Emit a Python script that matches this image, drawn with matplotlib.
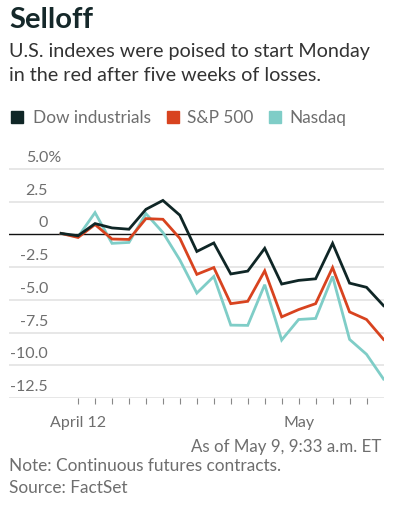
import matplotlib
matplotlib.use("Agg")
import matplotlib.pyplot as plt
import matplotlib.transforms as mtransforms

plt.rcParams['font.family'] = ['Lato', 'DejaVu Sans']

dates = ["Apr 11", "Apr 12", "Apr 13", "Apr 14", "Apr 18", "Apr 19", "Apr 20", "Apr 21",
         "Apr 22", "Apr 25", "Apr 26", "Apr 27", "Apr 28", "Apr 29", "May 2", "May 3",
         "May 4", "May 5", "May 6", "May 9"]
dow = [0.08, -0.10, 0.83, 0.50, 0.40, 1.92, 2.60, 1.47, -1.30, -0.65, -3.02, -2.80,
       -1.06, -3.79, -3.51, -3.39, -0.68, -3.72, -4.04, -5.44]
sp500 = [0.08, -0.23, 0.76, -0.35, -0.38, 1.21, 1.16, -0.30, -3.05, -2.53, -5.29, -5.11,
         -2.78, -6.30, -5.74, -5.29, -2.53, -5.92, -6.50, -8.02]
nasdaq = [0.08, -0.18, 1.67, -0.68, -0.61, 1.59, 0.15, -1.95, -4.48, -3.21, -6.93, -6.95,
          -3.84, -8.07, -6.50, -6.42, -3.21, -8.02, -9.16, -11.05]
series_names = ["Dow industrials", "S&P 500", "Nasdaq"]
colors = ["#0f2626", "#d8431f", "#7fcdc7"]
yticks = [5.0, 2.5, 0, -2.5, -5.0, -7.5, -10.0, -12.5]
ytick_labels = ["5.0%", "2.5", "0", "-2.5", "-5.0", "-7.5", "-10.0", "-12.5"]
xtick_idx = list(range(1, 19))
xlabels = {1: "April 12", 14: "May"}

W, H = 394, 510
fig = plt.figure(figsize=(W / 100, H / 100), dpi=100)

def fx(px):
    return px / W

def fy(py):
    return 1 - py / H

ax = fig.add_axes([fx(9), fy(399), fx(384) - fx(9), fy(163.5) - fy(399)])
x = list(range(len(dates)))
ax.set_xlim(-3.07, 19.03)
ax.set_ylim(-12.5, 5.5)

for v in yticks:
    if v == 0:
        ax.axhline(v, color="#111111", lw=1.0, zorder=3)
    else:
        ax.axhline(v, color="#e0e0e0", lw=1.1, zorder=1)

for vals, c in zip([nasdaq, sp500, dow], [colors[2], colors[1], colors[0]]):
    ax.plot(x, vals, color=c, lw=2.0, zorder=4, solid_joinstyle="miter")

for spine in ax.spines.values():
    spine.set_visible(False)
ax.set_yticks([])

ax.set_xticks(xtick_idx)
ax.set_xticklabels([xlabels.get(i, "") for i in xtick_idx])
ax.tick_params(axis="x", length=4.2, width=0.8, color="#888888", pad=8,
               labelsize=11.5, labelcolor="#6e6e6e")
ax.set_xticks([14], minor=True)
ax.tick_params(axis="x", which="minor", length=6.5, width=0.8, color="#888888")

# y labels above gridlines
blend = mtransforms.blended_transform_factory(fig.transFigure, ax.transData)
for v, lab in zip(yticks, ytick_labels):
    t = mtransforms.offset_copy(blend, fig=fig, x=0, y=3.6, units="points")
    xr = 61 if lab.endswith("%") else 48
    ax.text(fx(xr), v, lab, transform=t, ha="right", va="bottom",
            fontsize=11.5, color="#6e6e6e", clip_on=False)

# titles
fig.text(fx(9), fy(28), "Selloff", fontsize=21, fontweight="bold", color="#15282a",
         ha="left", va="baseline")
fig.text(fx(9), fy(57), "U.S. indexes were poised to start Monday", fontsize=14.2,
         color="#333333", ha="left", va="baseline")
fig.text(fx(9), fy(81), "in the red after five weeks of losses.", fontsize=14.2,
         color="#333333", ha="left", va="baseline")

# legend
leg_x = [11, 167, 269]
text_x = [33, 187, 289]
for name, c, sx, tx in zip(series_names, colors, leg_x, text_x):
    fig.patches.append(plt.Rectangle((fx(sx), fy(124)), fx(12), fy(112) - fy(124),
                                     transform=fig.transFigure, color=c, figure=fig))
    fig.text(fx(tx), fy(118), name, fontsize=12.4, color="#6e6e6e", ha="left",
             va="center")

fig.text(fx(381), fy(447), "As of May 9, 9:33 a.m. ET", fontsize=12.2, color="#6e6e6e",
         ha="right", va="center")
fig.text(fx(9), fy(466), "Note: Continuous futures contracts.", fontsize=12.4,
         color="#6e6e6e", ha="left", va="center")
fig.text(fx(9), fy(488), "Source: FactSet", fontsize=12.4, color="#6e6e6e",
         ha="left", va="center")

fig.savefig("out.png", dpi=100)
